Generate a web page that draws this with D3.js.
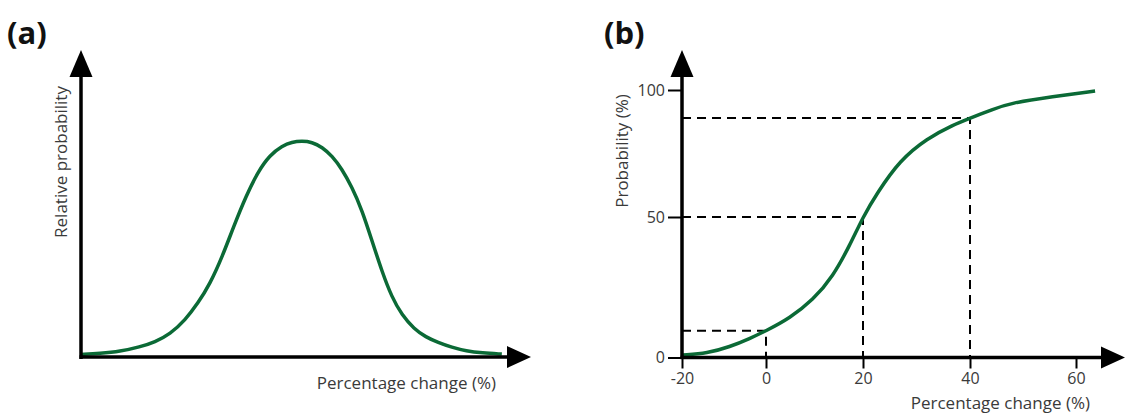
<!DOCTYPE html>
<html>
<head>
<meta charset="utf-8">
<script src="https://cdn.jsdelivr.net/npm/d3@7"></script>
<style>
  body { margin: 0; background: #fff; }
  svg { display: block; font-family: "Open Sans", "Noto Sans", sans-serif; }
</style>
</head>
<body>
<div id="chart"></div>
<script>
// panel (a): relative probability curve (arbitrary units, peak = 100)
const pdfX = [0, 4.5, 9.3, 14, 17.6, 21.2, 24.8, 27.9, 30.7, 33.6, 36.4, 39.3, 42.1, 45, 47.9, 50.2, 52.6,
              55, 57.4, 59.8, 62.1, 64.5, 66.9, 69.3, 71.7, 74, 76.4, 79.3, 82.1, 85, 88.3, 91.7, 95.5, 100.2];
const pdfY = [0.7, 1.2, 2.1, 4.2, 6.5, 10.2, 16.7, 24.7, 33.5, 46, 60.5, 74.4, 85.6, 93.5, 97.7, 99.5, 100,
              99.5, 97.2, 93, 87, 78.6, 67.9, 53.5, 39.1, 27.4, 19.1, 12.6, 8.8, 6.3, 4, 2.3, 1.4, 0.9];

// panel (b): cumulative probability (%) vs percentage change (%)
const cdfX = [-19.8, -14, -8.6, -3.8, 0, 4.9, 9.7, 13.8, 17.3, 20, 22.6, 26.9, 32, 36.8, 40, 44.3, 47.5, 55.6, 63.6];
const cdfY = [0.9, 1.5, 3.8, 6.8, 9.5, 14, 20.5, 28.8, 40, 50, 59.3, 72.4, 81, 86.2, 88.9, 92.4, 94.8, 97.4, 99.6];

// dashed read-off guides
const guideX = [0, 20, 40];
const guideY = [9.5, 50, 89];

const xTicks = [-20, 0, 20, 40, 60];
const yTicks = [0, 50, 100];

const width = 1125, height = 415;
const green = "#0b6a36";
const textColor = "#3a3a3a";

const svg = d3.select("#chart").append("svg")
  .attr("width", width)
  .attr("height", height);

// arrow helpers
function upArrow(g, x, yBottom, yTip) {
  g.append("line")
    .attr("x1", x).attr("x2", x)
    .attr("y1", yBottom).attr("y2", yTip + 20)
    .attr("stroke", "#000").attr("stroke-width", 3.5);
  g.append("path")
    .attr("d", `M${x},${yTip} L${x - 11.5},${yTip + 27} L${x + 11.5},${yTip + 27} Z`)
    .attr("fill", "#000");
}
function rightArrow(g, y, xLeft, xTip) {
  g.append("line")
    .attr("x1", xLeft).attr("x2", xTip - 18)
    .attr("y1", y).attr("y2", y)
    .attr("stroke", "#000").attr("stroke-width", 3.5);
  g.append("path")
    .attr("d", `M${xTip},${y} L${xTip - 24},${y - 11} L${xTip - 24},${y + 11} Z`)
    .attr("fill", "#000");
}

// ---------- panel (a) ----------
const xA = d3.scaleLinear().domain([0, 100]).range([81, 501]);
const yA = d3.scaleLinear().domain([0, 100]).range([356, 141]);

const gA = svg.append("g").attr("id", "panelA");

gA.append("text")
  .attr("x", 7).attr("y", 44)
  .attr("font-size", 31).attr("font-weight", 700)
  .attr("fill", "#111")
  .text("(a)");

const lineA = d3.line()
  .x((d, i) => xA(pdfX[i]))
  .y(d => yA(d))
  .curve(d3.curveBasis);

gA.append("path")
  .attr("d", lineA(pdfY))
  .attr("fill", "none")
  .attr("stroke", green)
  .attr("stroke-width", 3.5);

upArrow(gA, 81, 359, 50);
rightArrow(gA, 357, 79.5, 531);

gA.append("text")
  .attr("x", 496).attr("y", 389)
  .attr("text-anchor", "end")
  .attr("font-size", 17).attr("fill", textColor)
  .text("Percentage change (%)");

gA.append("text")
  .attr("transform", "translate(67,162) rotate(-90)")
  .attr("text-anchor", "middle")
  .attr("font-size", 17).attr("fill", textColor)
  .text("Relative probability");

// ---------- panel (b) ----------
const xB = d3.scaleLinear().domain([-20, 0, 20, 40, 60]).range([682, 766, 863, 970, 1076]);
const yB = d3.scaleLinear().domain([0, 50, 100]).range([357.5, 217, 90]);

const gB = svg.append("g").attr("id", "panelB");

gB.append("text")
  .attr("x", 604).attr("y", 44)
  .attr("font-size", 31).attr("font-weight", 700)
  .attr("fill", "#111")
  .text("(b)");

// dashed guides
const guides = guideX.map((x, i) => ({ x: x, y: guideY[i] }));
gB.selectAll("path.guide")
  .data(guides)
  .join("path")
  .attr("class", "guide")
  .attr("d", d => `M${xB(-20)},${yB(d.y)} H${xB(d.x)} V${yB(0)}`)
  .attr("fill", "none")
  .attr("stroke", "#000")
  .attr("stroke-width", 2)
  .attr("stroke-dasharray", "9,6");

const lineB = d3.line()
  .x((d, i) => xB(cdfX[i]))
  .y(d => yB(d))
  .curve(d3.curveBasis);

gB.append("path")
  .attr("d", lineB(cdfY))
  .attr("fill", "none")
  .attr("stroke", green)
  .attr("stroke-width", 3.5);

// ticks
const xAxis = gB.append("g")
  .attr("transform", `translate(0,${yB(0)})`)
  .call(d3.axisBottom(xB).tickValues(xTicks).tickSize(11).tickPadding(4).tickFormat(d => String(d)));
const yAxis = gB.append("g")
  .attr("transform", `translate(${xB(-20)},0)`)
  .call(d3.axisLeft(yB).tickValues(yTicks).tickSize(14).tickPadding(3));

[xAxis, yAxis].forEach(ax => {
  ax.select(".domain").remove();
  ax.selectAll(".tick line").attr("stroke", "#000").attr("stroke-width", 2);
  ax.selectAll(".tick text")
    .attr("font-size", 16)
    .attr("font-family", "\"Open Sans\", \"Noto Sans\", sans-serif")
    .attr("fill", textColor);
});

upArrow(gB, 682, 359, 50);
rightArrow(gB, 357.5, 680.5, 1125);

gB.append("text")
  .attr("x", 1090).attr("y", 409)
  .attr("text-anchor", "end")
  .attr("font-size", 17).attr("fill", textColor)
  .text("Percentage change (%)");

gB.append("text")
  .attr("transform", "translate(628,151) rotate(-90)")
  .attr("text-anchor", "middle")
  .attr("font-size", 17).attr("fill", textColor)
  .text("Probability (%)");
</script>
</body>
</html>
